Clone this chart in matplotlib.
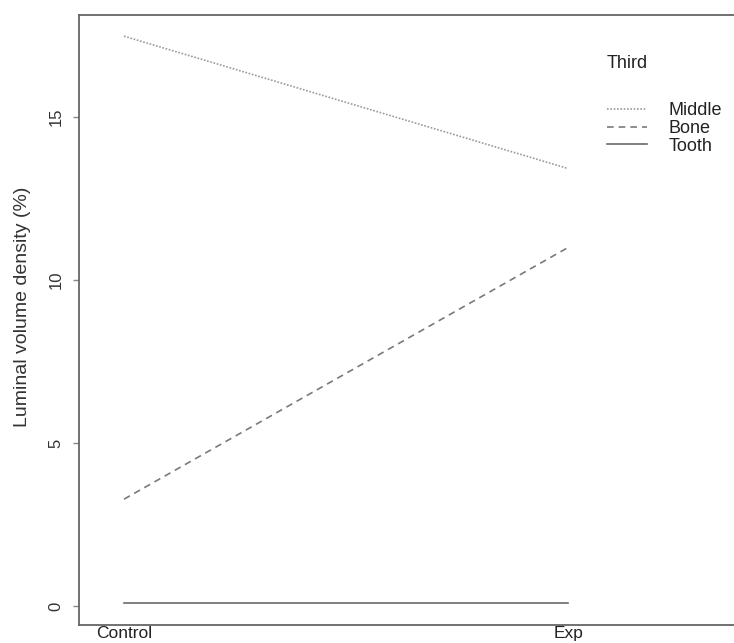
# -*- coding: utf-8 -*-
import matplotlib
matplotlib.use("AGG")
import matplotlib.pyplot as plt

plt.rcParams["font.family"] = ["Liberation Sans", "DejaVu Sans"]

# interaction plot: mean luminal volume density by group and third
groups = ["Control", "Exp"]
thirds = ["Middle", "Bone", "Tooth"]
middle = [17.48, 13.42]
bone = [3.28, 11.0]
tooth = [0.10, 0.10]
styles = {"Middle": (0, (1, 1)), "Bone": (0, (4, 3)), "Tooth": "-"}
colors = {"Middle": "#9a9a9a", "Bone": "#7a7a7a", "Tooth": "#6a6a6a"}
series = {"Middle": middle, "Bone": bone, "Tooth": tooth}

fig = plt.figure(figsize=(7.34, 6.43), dpi=100)
ax = fig.add_axes([79 / 734, 1 - 625 / 643, 1 - 79 / 734 + 0.01, (625 - 15) / 643])

x = [1, 2]
for name in thirds:
    ax.plot(x, series[name], linestyle=styles[name], color=colors[name],
            linewidth=1.2, label=name)

ax.set_xlim(0.8986, 2.390)
ax.set_ylim(-0.58, 18.13)
ax.set_xticks(x)
ax.set_xticklabels(groups)
ax.set_yticks([0, 5, 10, 15])
ax.set_yticklabels(["0", "5", "10", "15"], rotation=90, va="center")
ax.tick_params(axis="x", length=0, pad=0.5, labelsize=12.5, labelcolor="#222222")
ax.tick_params(axis="y", length=4, width=1, color="#888888", pad=7,
               labelsize=12, labelcolor="#333333")
ax.set_ylabel("Luminal volume density (%)", fontsize=14, color="#333333")
ax.yaxis.set_label_coords(-0.072, 1 - (307 - 15) / 610)

for side in ["left", "bottom", "top"]:
    ax.spines[side].set_color("#666666")
    ax.spines[side].set_linewidth(1.3)
ax.spines["right"].set_visible(False)

ax.text(607 / 734, 1 - 63 / 643, "Third", transform=fig.transFigure,
        fontsize=13, color="#222222", ha="left", va="center")
leg = ax.legend(loc="upper left", bbox_to_anchor=(607 / 734, 1 - 102 / 643),
                bbox_transform=fig.transFigure, frameon=False, fontsize=13,
                handlelength=2.2, handletextpad=1.2, labelspacing=0.05,
                borderpad=0, borderaxespad=0)
for t in leg.get_texts():
    t.set_color("#222222")

plt.savefig("out.png", dpi=100)
plt.close()
